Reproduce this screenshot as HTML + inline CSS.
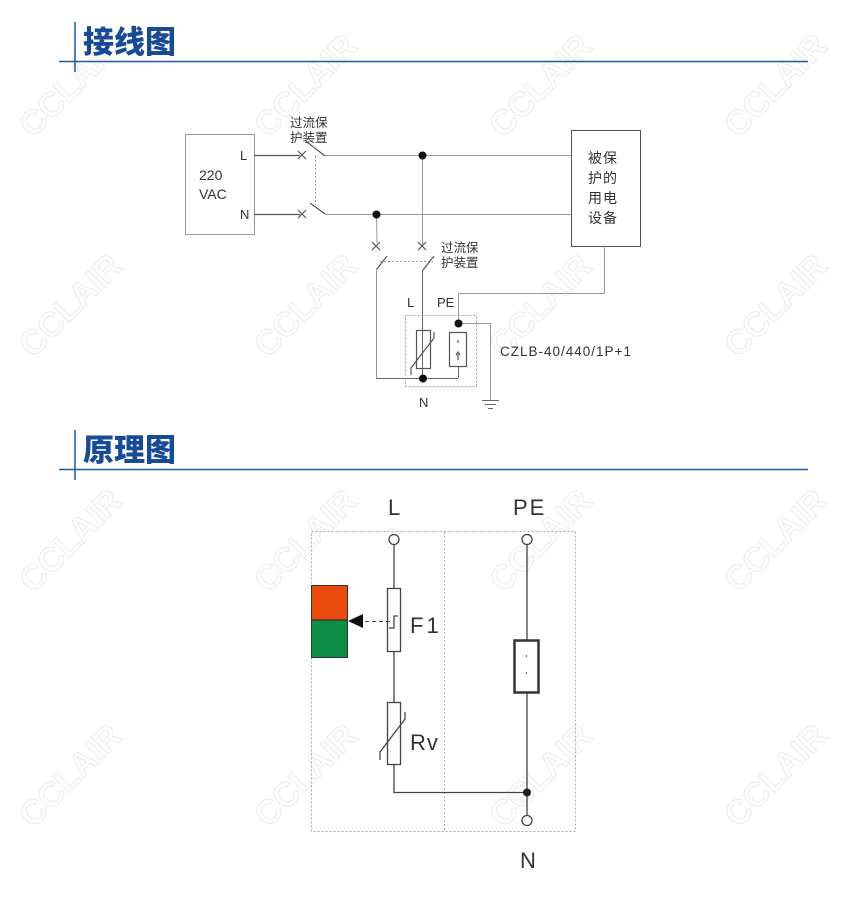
<!DOCTYPE html>
<html><head><meta charset="utf-8"><style>
html,body{margin:0;padding:0;background:#fff;width:845px;height:917px;overflow:hidden}
svg{display:block}
text{font-family:"Liberation Sans","Noto Sans CJK SC",sans-serif}
.t{font-family:"Liberation Sans","Noto Sans CJK SC",sans-serif;font-weight:900;fill:#184a96}
.wm{font-family:"Liberation Sans",sans-serif;font-size:34px;font-weight:bold;fill:none;stroke:#ececec;stroke-width:1.1}
</style></head><body>
<svg width="845" height="917" viewBox="0 0 845 917" xmlns="http://www.w3.org/2000/svg">
<!-- watermarks -->
<g>
<text class="wm" transform="translate(70,85) rotate(-45)" text-anchor="middle" dy="12">CCLAIR</text>
<text class="wm" transform="translate(305,85) rotate(-45)" text-anchor="middle" dy="12">CCLAIR</text>
<text class="wm" transform="translate(540,85) rotate(-45)" text-anchor="middle" dy="12">CCLAIR</text>
<text class="wm" transform="translate(775,85) rotate(-45)" text-anchor="middle" dy="12">CCLAIR</text>
<text class="wm" transform="translate(70,305) rotate(-45)" text-anchor="middle" dy="12">CCLAIR</text>
<text class="wm" transform="translate(305,305) rotate(-45)" text-anchor="middle" dy="12">CCLAIR</text>
<text class="wm" transform="translate(540,305) rotate(-45)" text-anchor="middle" dy="12">CCLAIR</text>
<text class="wm" transform="translate(775,305) rotate(-45)" text-anchor="middle" dy="12">CCLAIR</text>
<text class="wm" transform="translate(70,540) rotate(-45)" text-anchor="middle" dy="12">CCLAIR</text>
<text class="wm" transform="translate(305,540) rotate(-45)" text-anchor="middle" dy="12">CCLAIR</text>
<text class="wm" transform="translate(540,540) rotate(-45)" text-anchor="middle" dy="12">CCLAIR</text>
<text class="wm" transform="translate(775,540) rotate(-45)" text-anchor="middle" dy="12">CCLAIR</text>
<text class="wm" transform="translate(70,775) rotate(-45)" text-anchor="middle" dy="12">CCLAIR</text>
<text class="wm" transform="translate(305,775) rotate(-45)" text-anchor="middle" dy="12">CCLAIR</text>
<text class="wm" transform="translate(540,775) rotate(-45)" text-anchor="middle" dy="12">CCLAIR</text>
<text class="wm" transform="translate(775,775) rotate(-45)" text-anchor="middle" dy="12">CCLAIR</text>
</g>
<!-- headers -->
<line x1="75" y1="22" x2="75" y2="72" stroke="#1f56a6" stroke-width="1.5"/>
<line x1="59" y1="61.5" x2="808" y2="61.5" stroke="#1f56a6" stroke-width="1.5"/>
<text x="83" y="53" class="t" font-size="31">接线图</text>
<line x1="75" y1="430" x2="75" y2="480" stroke="#1f56a6" stroke-width="1.5"/>
<line x1="59" y1="469.5" x2="808" y2="469.5" stroke="#1f56a6" stroke-width="1.5"/>
<text x="83" y="461" class="t" font-size="31">原理图</text>

<!-- wiring diagram -->
<g fill="none" stroke="#999" stroke-width="1">
<rect x="185.5" y="134.5" width="69" height="100"/>
<rect x="571.5" y="130.5" width="69" height="116" stroke="#555"/>
<line x1="325" y1="155.5" x2="571" y2="155.5"/>
<line x1="325" y1="214.5" x2="571" y2="214.5"/>
<line x1="422.5" y1="155" x2="422.5" y2="246"/>
<line x1="376.5" y1="214" x2="377" y2="243"/>
<line x1="376.5" y1="268" x2="376.5" y2="378"/>
<line x1="376" y1="378.5" x2="458" y2="378.5" stroke="#666"/>
<line x1="422.5" y1="270" x2="422.5" y2="378" stroke="#666"/>
<line x1="458.5" y1="378" x2="458.5" y2="366" stroke="#666"/>
<line x1="458.5" y1="323" x2="458.5" y2="293.5"/>
<line x1="458" y1="293.5" x2="604.5" y2="293.5"/>
<line x1="604.5" y1="293.5" x2="604.5" y2="246"/>
<line x1="458" y1="323.5" x2="490.5" y2="323.5"/>
<line x1="490.5" y1="323" x2="490.5" y2="400"/>
<line x1="482" y1="400.5" x2="499" y2="400.5" stroke="#666"/>
<line x1="485" y1="404.5" x2="496" y2="404.5" stroke="#666"/>
<line x1="488" y1="408.5" x2="493" y2="408.5" stroke="#666"/>
<line x1="315.5" y1="156" x2="315.5" y2="205" stroke-dasharray="2,2"/>
<line x1="380" y1="261.5" x2="433" y2="261.5" stroke-dasharray="2,2"/>
<rect x="405.5" y="315.5" width="71" height="71" stroke-dasharray="2,2"/>
</g>
<g stroke="#555" stroke-width="1.2" fill="none">
<line x1="254" y1="155.5" x2="300" y2="155.5"/>
<line x1="254" y1="214.5" x2="300" y2="214.5"/>
<path d="M298,151 l8,8 M306,151 l-8,8 M298,210 l8,8 M306,210 l-8,8"/>
<path d="M372,242 l8,8 M380,242 l-8,8 M418,242 l8,8 M426,242 l-8,8"/>
<line x1="307" y1="142" x2="325" y2="156"/>
<line x1="310" y1="203" x2="325" y2="214"/>
<line x1="387" y1="256" x2="377" y2="269"/>
<line x1="434" y1="256" x2="423" y2="270"/>
<rect x="416.5" y="330.5" width="14" height="38"/>
<path d="M411,375 v-7 l23,-30 v-6"/>
<rect x="449.5" y="332.5" width="17" height="34"/>
<line x1="458" y1="340" x2="458" y2="343"/>
<path d="M458,360 v-6 M456,355 l2,-3 l2,3"/>
</g>
<g fill="#111">
<circle cx="422.5" cy="155.5" r="4"/>
<circle cx="376.5" cy="214.5" r="4"/>
<circle cx="458.5" cy="323.5" r="4"/>
<circle cx="423" cy="378.5" r="4"/>
</g>
<g font-size="13" fill="#333">
<text x="240" y="160">L</text>
<text x="240" y="219">N</text>
<text x="199" y="180" font-size="14">220</text>
<text x="199" y="199" font-size="14">VAC</text>
<text x="290" y="127" font-size="12.5">过流保</text>
<text x="290" y="142" font-size="12.5">护装置</text>
<text x="441" y="252" font-size="12.5">过流保</text>
<text x="441" y="267" font-size="12.5">护装置</text>
<text x="588" y="163" font-size="14" letter-spacing="1">被保</text>
<text x="588" y="183" font-size="14" letter-spacing="1">护的</text>
<text x="588" y="203" font-size="14" letter-spacing="1">用电</text>
<text x="588" y="223" font-size="14" letter-spacing="1">设备</text>
<text x="407" y="307">L</text>
<text x="437" y="307">PE</text>
<text x="419" y="407">N</text>
<text x="500" y="356" font-size="13.5" letter-spacing="1">CZLB-40/440/1P+1</text>
</g>

<!-- schematic -->
<g fill="none" stroke="#aaa" stroke-width="1" stroke-dasharray="2,2">
<rect x="311.5" y="531.5" width="264" height="300"/>
<line x1="444.5" y1="532" x2="444.5" y2="831"/>
</g>
<rect x="311" y="585" width="37" height="35" fill="#e84a0c"/>
<rect x="311" y="620" width="37" height="38" fill="#0c8c45"/>
<line x1="311" y1="620" x2="348" y2="620" stroke="#222" stroke-width="1"/>
<rect x="311.5" y="585.5" width="36" height="72" fill="none" stroke="#333" stroke-width="1"/>
<polygon points="348,621 363,614 363,628" fill="#111"/>
<line x1="365" y1="621.5" x2="392" y2="621.5" stroke="#444" stroke-dasharray="4,3"/>
<g fill="none" stroke="#444" stroke-width="1.3">
<line x1="394" y1="544" x2="394" y2="588"/>
<rect x="387.5" y="588.5" width="13" height="63"/>
<path d="M389,628 h5 v-12 h4"/>
<line x1="394" y1="651" x2="394" y2="702"/>
<rect x="387.5" y="702.5" width="13" height="62"/>
<path d="M380,760 v-8 l25,-33 v-7"/>
<path d="M394,765 v27.5 h133"/>
<line x1="527" y1="544" x2="527" y2="815"/>
<circle cx="394" cy="539.5" r="5" fill="#fff"/>
<circle cx="527" cy="539.5" r="5" fill="#fff"/>
<circle cx="527" cy="820.5" r="5" fill="#fff"/>
</g>
<rect x="514.5" y="640.5" width="24" height="52" fill="#fff" stroke="#333" stroke-width="2.5"/>
<circle cx="526.5" cy="656" r="0.8" fill="#333"/>
<circle cx="526.5" cy="673" r="0.8" fill="#333"/>
<circle cx="527" cy="792.5" r="4" fill="#222"/>
<g font-size="22" fill="#333">
<text x="388" y="515">L</text>
<text x="513" y="515" letter-spacing="2">PE</text>
<text x="410" y="633" letter-spacing="3">F1</text>
<text x="410" y="750" letter-spacing="1">Rv</text>
<text x="520" y="868">N</text>
</g>
</svg>
</body></html>
